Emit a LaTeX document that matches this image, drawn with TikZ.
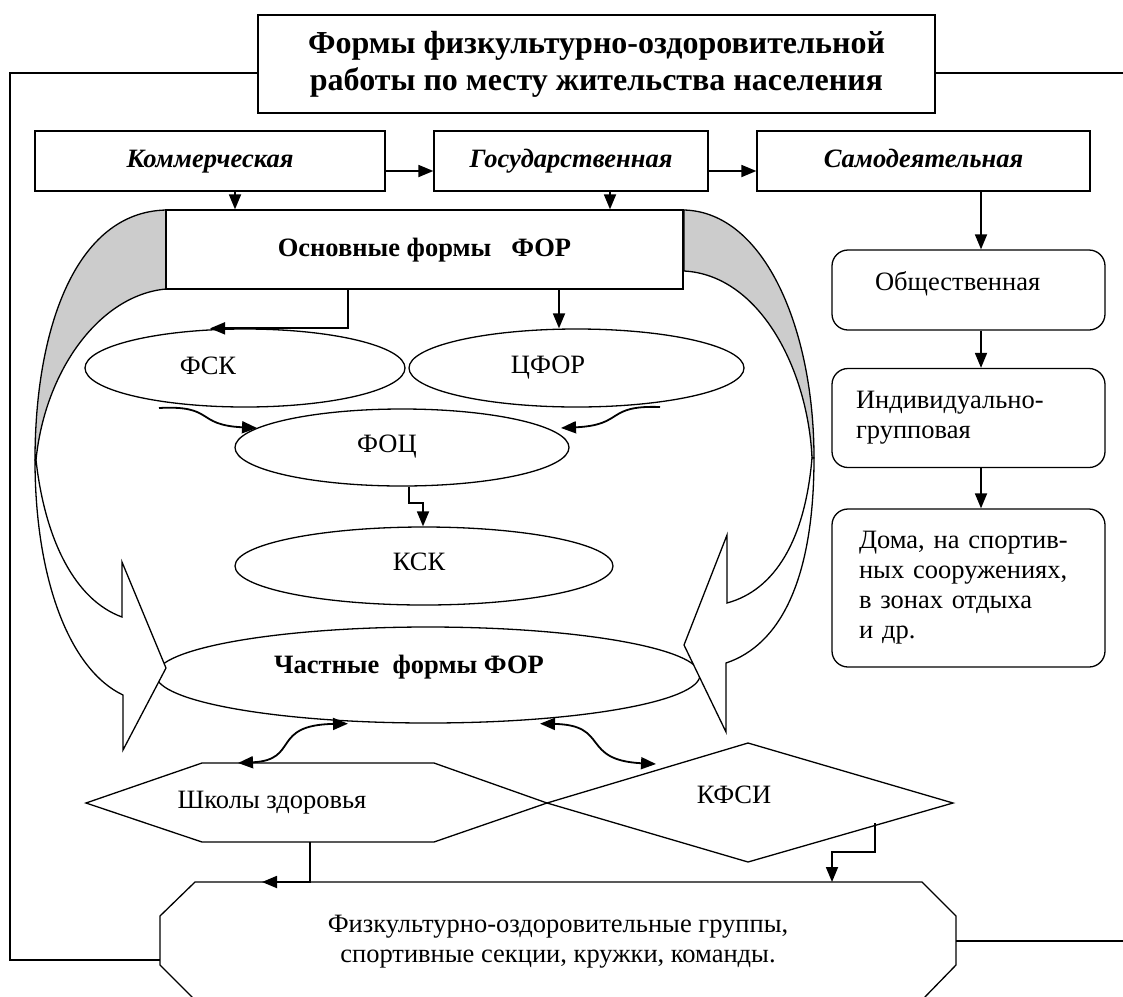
\documentclass[tikz,border=0pt]{standalone}
\usepackage{fontspec}
\setmainfont{Liberation Serif}
\usetikzlibrary{arrows.meta,shapes.geometric}
\definecolor{backgray}{RGB}{204,204,204}
\newcommand{\bodyfont}{\fontsize{26.5}{30}\selectfont}
\newcommand{\titlefont}{\fontsize{32}{37}\selectfont\bfseries}

\begin{document}
\begin{tikzpicture}[x=1pt,y=-1pt,
  box/.style={draw,line width=1.3pt,inner sep=0pt,font=\bodyfont},
  rbox/.style={box,rounded corners=16pt},
  oval/.style={ellipse,draw,line width=1.3pt,inner sep=0pt},
  lbl/.style={font=\bodyfont,inner sep=0pt,anchor=base},
  shapeline/.style={line width=1.3pt},
  frameline/.style={line width=1.1pt},
  arr/.style={line width=1.8pt,-{Triangle[length=15pt,width=12pt]}},
  dblarr/.style={line width=1.8pt,{Triangle[length=15pt,width=12pt]}-{Triangle[length=15pt,width=12pt]}}]

\useasboundingbox (0,0) rectangle (1123,996);
\clip (0,0) rectangle (1123,996);

% title and the three kinds
\node[box,minimum width=677pt,minimum height=98pt,align=center,font=\titlefont] (title) at (596.5,64)
  {Формы физкультурно-оздоровительной\\работы по месту жительства населения};
\node[box,minimum width=350pt,minimum height=60pt,text height=18pt,text depth=6pt,font=\bodyfont\bfseries\itshape] (komm) at (210,161) {Коммерческая};
\node[box,minimum width=274pt,minimum height=60pt,text height=18pt,text depth=6pt,font=\bodyfont\bfseries\itshape] (gos) at (571,161) {Государственная};
\node[box,minimum width=333pt,minimum height=60pt,text height=18pt,text depth=6pt,font=\bodyfont\bfseries\itshape] (sam) at (923.5,161) {Самодеятельная};

% outer frame
\draw[frameline] (title.west |- 0,73) -- (10,73) -- (10,960) -- (160,960);
\draw[frameline] (title.east |- 0,73) -- (1123,73);
\draw[frameline] (956,941) -- (1123,941);

% back sides of the big curved arrows
\draw[shapeline,fill=backgray] (166,210) .. controls (75,212) and (35,330) .. (35,460)
  -- (36,460) .. controls (45,370) and (100,295) .. (166,289) -- cycle;
\draw[shapeline,fill=backgray] (684,210) .. controls (765,212) and (814,330) .. (814,458)
  -- (812,458) .. controls (808,370) and (760,275) .. (684,271) -- cycle;

\node[box,fill=white,minimum width=517pt,minimum height=79pt,text height=19pt,text depth=6pt,font=\bodyfont\bfseries] (osn) at (424.5,249.5) {Основные формы\ \ \ ФОР};

% ovals
\node[oval,minimum width=320pt,minimum height=78pt] (fsk) at (245,368) {};
\node[oval,minimum width=335pt,minimum height=78pt] (cfor) at (576.5,368) {};
\node[oval,minimum width=334pt,minimum height=77pt] (foc) at (402,447.5) {};
\node[oval,minimum width=378pt,minimum height=78pt] (ksk) at (424,566) {};
\node[oval,minimum width=544pt,minimum height=96pt] (chast) at (428,675) {};
\node[lbl] (fsktext) at (208,374) {ФСК};
\node[lbl] (cfortext) at (548,373) {ЦФОР};
\node[lbl] (foctext) at (387,452) {ФОЦ};
\node[lbl] (ksktext) at (419,570) {КСК};
\node[lbl,font=\bodyfont\bfseries] (chasttext) at (409,673) {Частные\ \ формы ФОР};

% front sides of the big curved arrows
\draw[shapeline,fill=white] (35,460) .. controls (35,580) and (70,670) .. (123,695)
  -- (123,750) -- (166,668) -- (122,562) -- (122,617)
  .. controls (75,600) and (45,540) .. (36,460) -- cycle;
\draw[shapeline,fill=white] (814,458) .. controls (814,580) and (780,645) .. (726,663)
  -- (726,732) -- (684,645) -- (727,535) -- (727,603)
  .. controls (775,590) and (805,540) .. (812,458) -- cycle;

% right column
\node[rbox,minimum width=273pt,minimum height=80pt,text height=12pt,text depth=12pt,text width=187pt,inner xsep=43pt,align=left] (obsh) at (968.5,290) {Общественная};
\node[rbox,minimum width=273pt,minimum height=99pt,text width=225pt,inner xsep=24pt,align=left] (indiv) at (968.5,418)
  {Индивидуально-\\групповая};
\node[rbox,minimum width=273pt,minimum height=158pt,text width=219pt,inner xsep=27pt,align=left] (doma) at (968.5,588)
  {Дома, на спортив-\\ных сооружениях,\\в зонах отдыха\\и др.};

% lower shapes
\draw[shapeline] (86,803) -- (202,763) -- (434,763) -- (547,803) -- (434,842) -- (202,842) -- cycle;
\draw[shapeline] (547,803) -- (748,743) -- (953,803) -- (748,862) -- cycle;
\draw[shapeline] (195,882) -- (922,882) -- (956,916) -- (956,965) -- (922,1000) -- (195,1000) -- (160,965) -- (160,916) -- cycle;
\node[lbl] (shktext) at (272,808) {Школы здоровья};
\node[lbl] (kfsitext) at (734,803) {КФСИ};
\node[lbl] (grtext1) at (558,932) {Физкультурно-оздоровительные группы,};
\node[lbl] (grtext2) at (558,962) {спортивные секции, кружки, команды.};

\coordinate (shktop) at (238,763);
\coordinate (shkbot) at (310,842);
\coordinate (kfsitop) at (656,764);
\coordinate (kfsibot) at (875,823);
\coordinate (grA) at (262,882);
\coordinate (grB) at (832,882);
\coordinate (fskout) at (159,408);
\coordinate (cforout) at (660,407);
\coordinate (focL) at (257,428);
\coordinate (focR) at (561,428);

% connectors
\draw[arr] ([yshift=-10pt]komm.east) -- ([yshift=-10pt]gos.west);
\draw[arr] ([yshift=-10pt]gos.east) -- ([yshift=-10pt]sam.west);
\draw[arr] (komm.south -| 235,0) -- (osn.north -| 235,0);
\draw[arr] (gos.south -| 610,0) -- (osn.north -| 610,0);
\draw[arr] (sam.south -| 981,0) -- (obsh.north -| 981,0);
\draw[arr] (obsh.south -| 981,0) -- (indiv.north -| 981,0);
\draw[arr] (indiv.south -| 981,0) -- (doma.north -| 981,0);
\draw[arr] (osn.south -| 348,0) |- (fsk.north -| 210,0);
\draw[arr] (osn.south -| 559,0) -- (cfor.north -| 559,0);
\draw[arr] (fskout) .. controls (215,405) and (195,425) .. (focL);
\draw[arr] (cforout) .. controls (605,405) and (625,425) .. (focR);
\draw[arr] (foc.south -| 409,0) |- (423,503) -- (ksk.north -| 423,0);
\draw[dblarr] (shktop) .. controls (300,760) and (270,725) .. (chast.south -| 348,0);
\draw[dblarr] (chast.south -| 540,0) .. controls (610,725) and (580,760) .. (kfsitop);
\draw[arr] (shkbot) |- (grA);
\draw[arr] (kfsibot) -- (875,852) -| (grB);
\end{tikzpicture}
\end{document}
